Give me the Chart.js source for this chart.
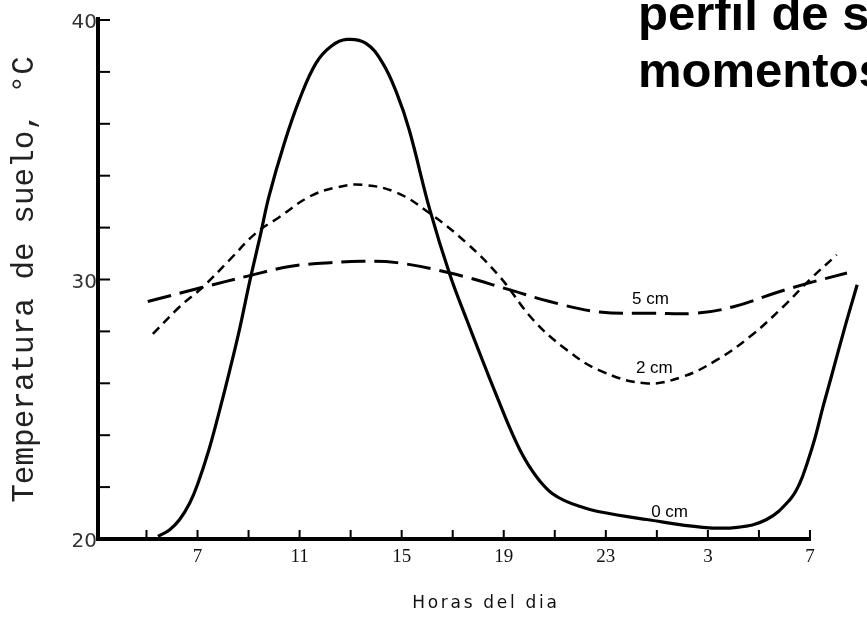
<!DOCTYPE html>
<html>
<head>
<meta charset="utf-8">
<script src="https://cdn.jsdelivr.net/npm/chart.js@4.4.1/dist/chart.umd.min.js"></script>
<style>
  html, body { margin: 0; padding: 0; background: #fff; }
  #wrap { width: 867px; height: 621px; }
</style>
</head>
<body>
<div id="wrap"><canvas id="soilChart"></canvas></div>
<script>
// hours are counted from midnight of the first day (27 = 3 h, 31 = 7 h next day)
const hours0 = [5.45, 5.9, 6.3, 6.7, 7.0, 7.45, 7.85, 8.25, 8.65, 9.05, 9.45, 9.8, 10.4, 11.0, 11.65, 12.25,
  12.85, 13.6, 14.25, 14.8, 15.3, 16.1, 16.9, 17.55, 18.2, 18.75, 19.25, 19.65, 20.0, 20.4, 20.9, 21.45,
  22.0, 22.75, 24.6, 26.8, 28.15, 29.3, 30.2, 30.6, 30.9, 31.2, 31.5, 31.85, 32.35, 32.85];
const temp0 = [20.1, 20.35, 20.75, 21.4, 22.1, 23.45, 24.9, 26.45, 28.1, 29.95, 31.65, 33.2, 35.25, 36.95, 38.35, 39.0,
  39.25, 39.1, 38.35, 37.2, 35.75, 32.7, 30.15, 28.45, 26.8, 25.45, 24.25, 23.4, 22.8, 22.25, 21.75, 21.45,
  21.25, 21.05, 20.75, 20.45, 20.45, 20.75, 21.5, 22.15, 22.95, 23.9, 25.05, 26.3, 28.1, 29.8];

const hours2 = [5.25, 6.3, 7.2, 8.25, 9.3, 10.2, 11.4, 12.45, 13.45, 14.8, 16.1, 17.55, 18.85, 20.15,
  21.45, 22.75, 24.55, 26.0, 27.35, 28.65, 29.95, 31.0, 32.05];
const temp2 = [27.9, 28.95, 29.7, 30.75, 31.8, 32.4, 33.2, 33.55, 33.65, 33.35, 32.55, 31.4, 30.1, 28.45,
  27.3, 26.5, 26.0, 26.25, 26.9, 27.8, 28.95, 30.0, 30.95];

const hours5 = [5.05, 7.2, 9.05, 10.6, 12.2, 13.45, 14.8, 16.9, 19.25, 20.8, 22.75, 24.85, 26.55, 28.0,
  29.7, 30.9, 32.45];
const temp5 = [29.15, 29.7, 30.15, 30.5, 30.65, 30.7, 30.65, 30.25, 29.6, 29.15, 28.75, 28.7, 28.7, 28.95,
  29.5, 29.85, 30.25];

const hourTicks = [5, 7, 9, 11, 13, 15, 17, 19, 21, 23, 25, 27, 29, 31];
const depthLabels = ['0 cm', '2 cm', '5 cm'];
const headerLines = ['perfil de s', 'momentos'];
const xTitle = 'Horas del dia';

const toPoints = (xs, ys) => xs.map((h, i) => ({ x: h, y: ys[i] }));

const framePlugin = {
  id: 'frame',
  beforeDatasetsDraw(chart) {
    const { ctx, chartArea: a, scales: { x, y } } = chart;
    ctx.save();
    ctx.strokeStyle = '#000';
    ctx.lineWidth = 4;
    ctx.beginPath();
    ctx.moveTo(a.left, y.getPixelForValue(40) - 3);
    ctx.lineTo(a.left, a.bottom + 2);
    ctx.stroke();
    // the time axis stops at 7 h of the next day
    ctx.beginPath();
    ctx.moveTo(a.left - 2, a.bottom);
    ctx.lineTo(x.getPixelForValue(31) + 1, a.bottom);
    ctx.stroke();
    ctx.lineWidth = 2;
    y.ticks.forEach(t => {
      const py = y.getPixelForValue(t.value);
      ctx.beginPath();
      ctx.moveTo(a.left, py);
      ctx.lineTo(a.left + 12, py);
      ctx.stroke();
    });
    x.ticks.forEach(t => {
      const px = x.getPixelForValue(t.value);
      ctx.beginPath();
      ctx.moveTo(px, a.bottom);
      ctx.lineTo(px, a.bottom - 9);
      ctx.stroke();
    });
    ctx.restore();
  },
  afterDraw(chart) {
    const { ctx, chartArea: a, scales: { x, y } } = chart;
    ctx.save();
    ctx.fillStyle = '#000';
    // curve labels, anchored in data units
    const spots = [[25.5, 20.85], [24.9, 26.4], [24.75, 29.05]];
    ctx.font = '17px "Liberation Sans", Arial, sans-serif';
    ctx.textAlign = 'center';
    ctx.textBaseline = 'alphabetic';
    depthLabels.forEach((txt, i) => {
      ctx.fillText(txt, x.getPixelForValue(spots[i][0]), y.getPixelForValue(spots[i][1]));
    });
    // time axis title, letter-spaced like the original
    ctx.fillStyle = '#111';
    ctx.font = '17px "DejaVu Sans", sans-serif';
    ctx.letterSpacing = '2.7px';
    ctx.fillText(xTitle, x.getPixelForValue(18.3), a.bottom + 69);
    ctx.letterSpacing = '0px';
    // slide heading, cut by the right edge
    ctx.fillStyle = '#000';
    ctx.textAlign = 'left';
    ctx.font = 'bold 49px "Liberation Sans", Arial, sans-serif';
    ctx.fillText(headerLines[0], 638, 30);
    ctx.fillText(headerLines[1], 638, 87);
    ctx.restore();
  }
};

const lineStyle = { borderColor: '#000', pointRadius: 0, tension: 0.4, fill: false };

new Chart(document.getElementById('soilChart'), {
  type: 'line',
  data: {
    datasets: [
      { ...lineStyle, label: depthLabels[0], data: toPoints(hours0, temp0), borderWidth: 3.2 },
      { ...lineStyle, label: depthLabels[1], data: toPoints(hours2, temp2), borderWidth: 2.5, borderDash: [9, 6] },
      { ...lineStyle, label: depthLabels[2], data: toPoints(hours5, temp5), borderWidth: 3, borderDash: [24, 9] }
    ]
  },
  options: {
    responsive: true,
    maintainAspectRatio: false,
    animation: false,
    devicePixelRatio: 1,
    layout: { padding: { top: 20, right: 6, left: 0, bottom: 0 } },
    plugins: {
      legend: { display: false },
      tooltip: { enabled: false }
    },
    scales: {
      x: {
        type: 'linear',
        min: 3.1,
        max: 33,
        grid: { display: false, drawTicks: false },
        border: { display: false },
        afterBuildTicks: scale => { scale.ticks = hourTicks.map(v => ({ value: v })); },
        afterFit: scale => { scale.height = 82; },
        ticks: {
          autoSkip: false,
          maxRotation: 0,
          padding: 7,
          color: '#111',
          font: { family: '"Liberation Serif", "Times New Roman", serif', size: 19 },
          callback: v => ((v - 7) % 4 === 0 ? String(v % 24) : '')
        }
      },
      y: {
        min: 20,
        max: 40,
        grid: { display: false, drawTicks: false },
        border: { display: false },
        afterFit: scale => { scale.width = 98; },
        ticks: {
          stepSize: 2,
          autoSkip: false,
          padding: 1,
          labelOffset: 3,
          color: '#333',
          font: { family: '"DejaVu Sans", sans-serif', size: 20 },
          callback: v => (v % 10 === 0 ? String(v) : '')
        },
        title: {
          display: true,
          text: 'Temperatura de suelo, °C',
          color: '#222',
          font: { family: '"Courier New", "Liberation Mono", monospace', size: 31 },
          padding: { top: 6, bottom: 0 }
        }
      }
    }
  },
  plugins: [framePlugin]
});
</script>
</body>
</html>
